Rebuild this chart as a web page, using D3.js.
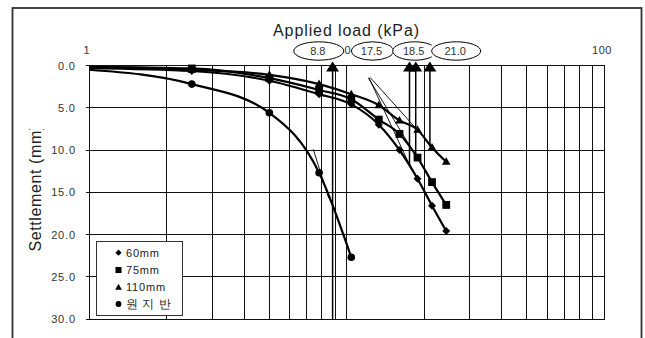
<!DOCTYPE html>
<html><head><meta charset="utf-8">
<script src="https://cdn.jsdelivr.net/npm/d3@7"></script>
<style>
html,body{margin:0;padding:0;background:#fff;}
svg{display:block;}
text{font-family:"Liberation Sans",Arial,sans-serif;}
</style></head><body>
<svg id="chart" width="645" height="338"></svg>
<script>
// Plate load test: settlement against applied load (log scale)
const loads = [2.5, 5.0, 7.8, 10.4, 13.3, 16.0, 18.8, 21.4, 24.3];
const settle60 = [0.65, 1.8, 3.4, 4.6, 7.0, 10.0, 13.4, 16.6, 19.6];
const settle75 = [0.35, 1.5, 2.9, 4.0, 6.4, 8.1, 10.9, 13.8, 16.5];
const settle110 = [0.5, 1.1, 2.2, 3.4, 4.7, 6.5, 7.6, 9.7, 11.4];
const groundLoads = [2.5, 5.0, 7.8, 10.4];
const groundSettle = [2.2, 5.6, 12.7, 22.7];
// curves start at the left edge of the load axis
const startLoad = 1;
const startSettle = [0.3, 0.15, 0.2, 0.5];
const seriesNames = ["60mm", "75mm", "110mm", "원 지 반"];
// yield loads picked off the curves
const yieldLoads = [8.8, 17.5, 18.5, 21.0];
const yieldLabels = ["8.8", "17.5", "18.5", "21.0"];
const yieldDepth = [30, 11.8, 10.8, 9.6];
// construction lines [load, settlement]
const tangentStart = [[7.4, 9.9], [12.3, 1.4], [12.1, 1.45], [12.2, 1.5]];
const tangentEnd = [[8.5, 15.7], [19.0, 7.8], [18.2, 10.3], [17.4, 11.6]];
const xTickLabels = [1, 10, 100];
const yTicks = [0, 5, 10, 15, 20, 25, 30];

(function () {
const svg = d3.select("#chart");
const pLeft = 89.3, pRight = 604.5, pTop = 65.5, pBottom = 319;
const x = d3.scaleLog().domain([1, 100]).range([pLeft, pRight]);
const y = d3.scaleLinear().domain([0, 30]).range([pTop, pBottom]);

// outer frame
svg.append("rect").attr("x", 12.5).attr("y", 8).attr("width", 629).attr("height", 345)
  .attr("fill", "none").attr("stroke", "#333").attr("stroke-width", 1.8);

// grid
const grid = svg.append("g").attr("stroke", "#111").attr("stroke-width", 1).attr("shape-rendering", "crispEdges");
grid.selectAll("line.v").data(x.ticks()).join("line").attr("class", "v")
  .attr("x1", d => x(d)).attr("x2", d => x(d)).attr("y1", pTop).attr("y2", pBottom);
grid.selectAll("line.h").data(yTicks).join("line").attr("class", "h")
  .attr("x1", pLeft - 3).attr("x2", pRight).attr("y1", d => y(d)).attr("y2", d => y(d));

// axes labels
const xAxis = svg.append("g").attr("transform", `translate(0,${pTop})`)
  .call(d3.axisTop(x).tickValues(xTickLabels).tickSize(0).tickPadding(11.5).tickFormat(d3.format("d")));
xAxis.select(".domain").remove();
xAxis.selectAll("text").attr("font-size", 11).attr("fill", "#333").attr("letter-spacing", 0.5)
  .attr("dx", -3).attr("font-family", "'Liberation Sans',Arial,sans-serif");

const yAxis = svg.append("g").attr("transform", `translate(${pLeft},0)`)
  .call(d3.axisLeft(y).tickValues(yTicks).tickSize(0).tickPadding(13.5).tickFormat(d3.format(".1f")));
yAxis.select(".domain").remove();
yAxis.selectAll("text").attr("font-size", 11).attr("fill", "#333").attr("letter-spacing", 0.8)
  .attr("font-family", "'Liberation Sans',Arial,sans-serif");

// titles
svg.append("text").attr("x", 346.5).attr("y", 36).attr("text-anchor", "middle")
  .attr("font-size", 16).attr("letter-spacing", 0.9).attr("fill", "#222").text("Applied load (kPa)");
svg.append("clipPath").attr("id", "ytclip").append("rect")
  .attr("x", 0).attr("y", 129).attr("width", 80).attr("height", 220);
svg.append("g").attr("clip-path", "url(#ytclip)").append("text")
  .attr("transform", "translate(40.5,251.5) rotate(-90)").attr("text-anchor", "start")
  .attr("font-size", 16).attr("letter-spacing", 0.6).attr("fill", "#222").text("Settlement (mm)");

// curves
const line = d3.line().x(d => x(d[0])).y(d => y(d[1])).curve(d3.curveMonotoneX);
const series = [
  { loads: loads, vals: settle60, shape: "diamond" },
  { loads: loads, vals: settle75, shape: "square" },
  { loads: loads, vals: settle110, shape: "triangle" },
  { loads: groundLoads, vals: groundSettle, shape: "circle" }
];
series.forEach((s, i) => {
  const pts = [[startLoad, startSettle[i]]].concat(s.loads.map((l, j) => [l, s.vals[j]]));
  svg.append("path").attr("d", line(pts)).attr("fill", "none")
    .attr("stroke", "#000").attr("stroke-width", 2.2);
});

// thin construction lines
svg.append("g").selectAll("line").data(tangentStart).join("line")
  .attr("x1", d => x(d[0])).attr("y1", d => y(d[1]))
  .attr("x2", (d, i) => x(tangentEnd[i][0])).attr("y2", (d, i) => y(tangentEnd[i][1]))
  .attr("stroke", "#000").attr("stroke-width", 0.9);

// marker shapes
function shapePath(shape, k) {
  if (shape === "diamond") { const r = 4 * k; return `M0,${-r}L${r},0L0,${r}L${-r},0Z`; }
  if (shape === "square") { const h = 3.9 * k; return `M${-h},${-h}H${h}V${h}H${-h}Z`; }
  if (shape === "triangle") { const w = 4.3 * k, h = 7.5 * k; return `M0,${-h * 0.6}L${w},${h * 0.4}L${-w},${h * 0.4}Z`; }
  const r = 3.8 * k;
  return `M${-r},0A${r},${r} 0 1,0 ${r},0A${r},${r} 0 1,0 ${-r},0Z`;
}
series.forEach(s => {
  svg.append("g").selectAll("path").data(s.loads).join("path")
    .attr("transform", (l, j) => `translate(${x(l)},${y(s.vals[j])})`)
    .attr("d", shapePath(s.shape, 1)).attr("fill", "#000");
});

// yield arrows
const arrows = svg.append("g");
yieldLoads.forEach((v, i) => {
  const ax = x(v);
  arrows.append("line").attr("x1", ax).attr("x2", ax).attr("y1", 66).attr("y2", y(yieldDepth[i]))
    .attr("stroke", "#000").attr("stroke-width", 1.5);
  arrows.append("path").attr("d", `M${ax},61.5L${ax + 6.5},71.5L${ax - 6.5},71.5Z`).attr("fill", "#000");
});

// yield load badges (text boxes with an oval outline)
const badgeX = [318.8, 372.5, 414.7, 456.2];
const badgeRx = [25, 21, 22, 24.5];
yieldLabels.forEach((t, i) => {
  const b = svg.append("g");
  b.append("rect").attr("x", badgeX[i] - badgeRx[i]).attr("y", 41.5)
    .attr("width", badgeRx[i] * 2).attr("height", 19).attr("fill", "#fff");
  b.append("ellipse").attr("cx", badgeX[i]).attr("cy", 51).attr("rx", badgeRx[i]).attr("ry", 9.2)
    .attr("fill", "#fff").attr("stroke", "#000").attr("stroke-width", 1);
  b.append("text").attr("x", badgeX[i] - 1).attr("y", 55).attr("text-anchor", "middle")
    .attr("font-size", 11).attr("fill", "#333").text(t);
});

// legend
const lg = svg.append("g");
lg.append("rect").attr("x", 96.5).attr("y", 241.5).attr("width", 86).attr("height", 74)
  .attr("fill", "#fff").attr("stroke", "#333").attr("stroke-width", 1);
const legendY = [252.7, 270, 287.3, 304];
series.forEach((s, i) => {
  lg.append("path").attr("transform", `translate(118.5,${legendY[i]})`)
    .attr("d", shapePath(s.shape, 0.78)).attr("fill", "#000");
  lg.append("text").attr("x", 126).attr("y", legendY[i] + 4)
    .attr("font-size", i === 3 ? 12 : 11).attr("letter-spacing", i === 3 ? 0.5 : 0.8)
    .attr("font-family", i === 3 ? "'Noto Sans CJK KR',sans-serif" : "'Liberation Sans',Arial,sans-serif")
    .attr("fill", "#222").text(seriesNames[i]);
});
})();
</script>
</body></html>
